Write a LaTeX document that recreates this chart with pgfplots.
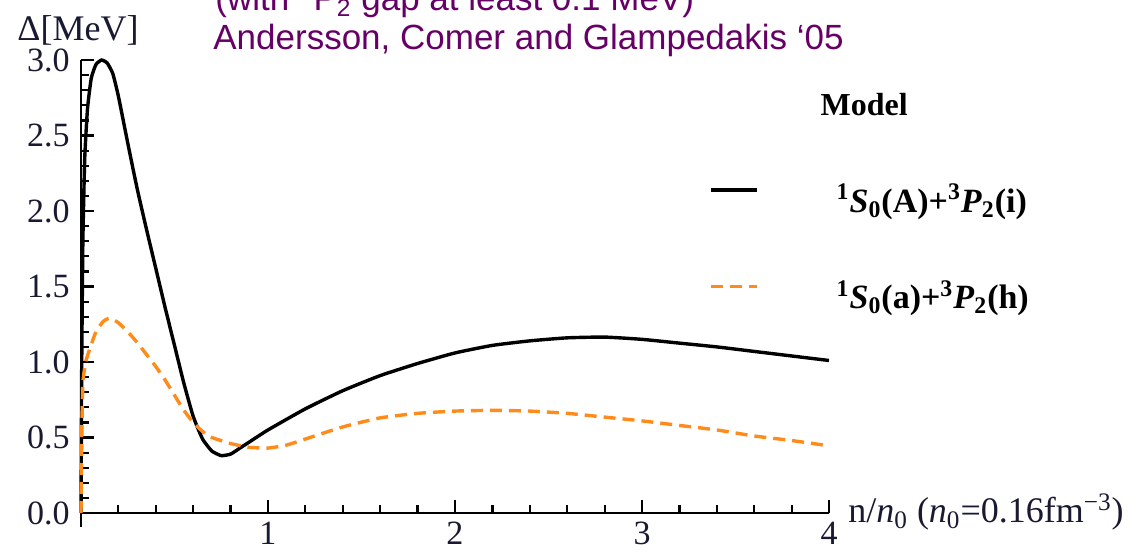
\documentclass[border=0pt]{standalone}
\usepackage{pgfplots}
\pgfplotsset{compat=1.18}
\usepackage{fontspec}
\setmainfont{Liberation Serif}
\newfontfamily\arial{Liberation Sans}
\definecolor{myorange}{RGB}{255,140,26}
\definecolor{mypurple}{RGB}{102,0,102}
\definecolor{ticklab}{RGB}{25,25,50}
\begin{document}
\begin{tikzpicture}
\begin{axis}[
  at={(0,0)}, anchor=origin,
  scale only axis, width=374pt, height=226.5pt,
  xmin=0, xmax=4, ymin=0, ymax=3,
  axis x line*=bottom, axis y line*=left,
  axis line style={line width=1.3pt},
  clip=false,
  xtick align=inside, ytick align=inside,
  major tick length=6.5pt, minor tick length=4pt,
  major tick style={draw=black, line width=1.3pt},
  minor tick style={draw=black, line width=1.1pt},
  xtick={1,2,3,4},
  minor xtick={0.2,0.4,0.6,0.8,1.2,1.4,1.6,1.8,2.2,2.4,2.6,2.8,3.2,3.4,3.6,3.8},
  ytick={0,0.5,1,1.5,2,2.5,3},
  minor ytick={0.1,0.2,0.3,0.4,0.6,0.7,0.8,0.9,1.1,1.2,1.3,1.4,1.6,1.7,1.8,1.9,2.1,2.2,2.3,2.4,2.6,2.7,2.8,2.9},
  /pgf/number format/assume math mode=true,
  yticklabel style={/pgf/number format/.cd, fixed, fixed zerofill, precision=1, /tikz/.cd,
     anchor=east, inner sep=0pt, xshift=-5.5pt, text=ticklab, font=\fontsize{17}{17}\selectfont},
  xticklabel style={anchor=north, inner sep=0pt, yshift=-4.5pt, text=ticklab, font=\fontsize{17}{17}\selectfont},
  every axis x label/.style={at={(axis description cs:1,0)}, anchor=base west, xshift=9.5pt, yshift=-5pt,
     inner sep=0pt, text=ticklab, font=\fontsize{18}{18}\selectfont},
  every axis y label/.style={at={(axis description cs:0,1)}, anchor=base west, xshift=-32pt, yshift=10pt,
     inner sep=0pt, text=ticklab, font=\fontsize{18}{18}\selectfont},
  xlabel={n/\textit{n}\textsubscript{0} (\textit{n}\textsubscript{0}=0.16fm\textsuperscript{−3})},
  ylabel={Δ[MeV]},
  legend style={draw=none, fill=none, at={(axis cs:3.358,2.795)}, anchor=north west,
     inner sep=0pt, row sep=32pt, column sep=39pt,
     nodes={inner sep=0pt, text height=12pt, text depth=4pt, anchor=base west},
     font=\bfseries\fontsize{17}{17}\selectfont},
  legend cell align=left,
  legend image code/.code={\path (0pt,0pt) (0pt,11.5pt); \draw[#1] (0pt,11pt) -- (23pt,11pt);},
]
\addlegendimage{empty legend}
\addlegendentry{\hspace*{-8pt}\fontsize{16}{16}\selectfont Model}
\addplot[black, line width=1.7pt, smooth, tension=0.3] coordinates {
(0,0) (0.004,1.0) (0.01,1.8) (0.02,2.35) (0.035,2.68) (0.055,2.88) (0.08,2.97) (0.11,3.0)
(0.14,2.98) (0.17,2.91) (0.2,2.76) (0.25,2.45) (0.3,2.15) (0.35,1.88) (0.4,1.62) (0.45,1.36)
(0.5,1.11) (0.55,0.86) (0.6,0.64) (0.65,0.49) (0.7,0.41) (0.75,0.38) (0.8,0.39) (0.85,0.43)
(0.9,0.47) (1.0,0.55) (1.2,0.69) (1.4,0.81) (1.6,0.91) (1.8,0.99) (2.0,1.06) (2.2,1.11)
(2.4,1.14) (2.6,1.16) (2.8,1.165) (3.0,1.15) (3.2,1.125) (3.4,1.10) (3.6,1.07) (3.8,1.04) (4.0,1.01)
};
\addlegendentry{\textsuperscript{1}\textit{S}\textsubscript{0}(A)+\textsuperscript{3}\textit{P}\textsubscript{2}(i)}
\addplot[myorange, line width=1.7pt, dash pattern=on 6pt off 3.5pt, smooth, tension=0.3] coordinates {
(0,0) (0.004,0.5) (0.01,0.86) (0.025,1.0) (0.045,1.08) (0.08,1.2) (0.12,1.27) (0.155,1.29)
(0.2,1.26) (0.25,1.2) (0.3,1.13) (0.35,1.05) (0.4,0.97) (0.45,0.88) (0.5,0.78) (0.55,0.68)
(0.6,0.6) (0.65,0.54) (0.7,0.5) (0.8,0.46) (0.9,0.435) (1.0,0.43) (1.1,0.45) (1.2,0.49)
(1.4,0.57) (1.6,0.63) (1.8,0.66) (2.0,0.675) (2.2,0.68) (2.4,0.675) (2.6,0.66) (2.8,0.635)
(3.0,0.61) (3.2,0.58) (3.4,0.55) (3.6,0.51) (3.8,0.48) (4.0,0.445)
};
\addlegendentry{\textsuperscript{1}\textit{S}\textsubscript{0}(a)+\textsuperscript{3}\textit{P}\textsubscript{2}(h)}
\draw[line width=1.3pt] (axis cs:0,0) -- ++(0pt,-7pt);
\end{axis}
\node[anchor=base west, inner sep=0pt, text=mypurple, font=\arial\fontsize{17.5}{17.5}\selectfont]
  at (67pt,251pt) {(with \textsuperscript{3}P\textsubscript{2} gap at least 0.1 MeV)};
\node[anchor=base west, inner sep=0pt, text=mypurple, font=\arial\fontsize{17.5}{17.5}\selectfont]
  at (66pt,231.5pt) {Andersson, Comer and Glampedakis ‘05};
\pgfresetboundingbox
\useasboundingbox (-40.5pt,-19.5pt) rectangle (530.5pt,256.5pt);
\end{tikzpicture}
\end{document}
